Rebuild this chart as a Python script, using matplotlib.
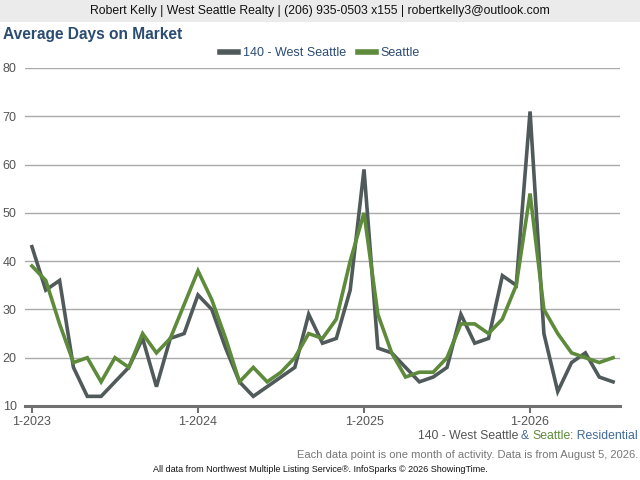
import matplotlib
matplotlib.use("Agg")
from matplotlib import pyplot as plt
from matplotlib.patches import Rectangle

plt.rcParams['font.family'] = ['Liberation Sans', 'DejaVu Sans']

# monthly values, Jan 2023 .. Jul 2026
west_seattle = [43, 34, 36, 18, 12, 12, 15, 18, 24, 14, 24, 25,
                33, 30, 22, 15, 12, 14, 16, 18, 29, 23, 24, 34,
                59, 22, 21, 18, 15, 16, 18, 29, 23, 24, 37, 35,
                71, 25, 13, 19, 21, 16, 15]
seattle = [39, 36, 27, 19, 20, 15, 20, 18, 25, 21, 24, 31,
           38, 32, 24, 15, 18, 15, 17, 20, 25, 24, 28, 40,
           50, 29, 21, 16, 17, 17, 20, 27, 27, 25, 28, 35,
           54, 30, 25, 21, 20, 19, 20]
tick_pos = [0, 12, 24, 36]
tick_labels = ["1-2023", "1-2024", "1-2025", "1-2026"]
y_ticks = [10, 20, 30, 40, 50, 60, 70, 80]

GRAY = "#505a5a"
GREEN = "#5e8b3b"
BLUE = "#2b4c73"

fig = plt.figure(figsize=(6.4, 4.8), dpi=100)

# header band
fig.patches.append(Rectangle((0, 1 - 22 / 480), 1, 22 / 480, transform=fig.transFigure,
                             facecolor="#ebebeb", edgecolor="none", zorder=0))
fig.text(0.5, 1 - 11 / 480, "Robert Kelly | West Seattle Realty | (206) 935-0503 x155 | robertkelly3@outlook.com",
         ha="center", va="center", fontsize=8.8, color="#111111")
fig.text(3 / 640, 1 - 35 / 480, "Average Days on Market", ha="left", va="center",
         fontsize=11.2, fontweight="bold", color=BLUE)

ax = fig.add_axes([25 / 640, 74 / 480, 595 / 640, 338 / 480])
x = list(range(len(west_seattle)))
ax.plot(x, west_seattle, color=GRAY, lw=2.6, label="140 - West Seattle", solid_joinstyle="miter")
ax.plot(x, seattle, color=GREEN, lw=2.6, label="Seattle", solid_joinstyle="miter")

ax.set_xlim(-0.5, 42.5)
ax.set_ylim(10, 80)
ax.set_yticks(y_ticks)
ax.set_xticks(tick_pos)
ax.set_xticklabels(tick_labels)
ax.grid(axis="y", color="#aaaaaa", lw=1)
ax.set_axisbelow(True)
for s in ["top", "right", "left"]:
    ax.spines[s].set_visible(False)
ax.spines["bottom"].set_color("#707070")
ax.spines["bottom"].set_linewidth(2.2)
ax.tick_params(axis="y", length=0, labelsize=9, colors="#555555", pad=6)
ax.tick_params(axis="x", length=5, width=1.5, color="#707070", labelsize=9, labelcolor="#555555", pad=2)

leg = fig.legend(loc="center", bbox_to_anchor=(0.5, 1 - 53 / 480), ncol=2, frameon=False,
                 fontsize=9, handlelength=1.4, handletextpad=0.4, columnspacing=1.0)
for t in leg.get_texts():
    t.set_color(BLUE)
for h in leg.get_lines():
    h.set_linewidth(4)

# colored footnote, chained right to left
t1 = fig.text(638 / 640, 1 - 436 / 480, ": Residential", ha="right", va="center", fontsize=8.8, color="#3f6a9a")
t2 = fig.text(0, 0, "Seattle", fontsize=8.8, color=GREEN, ha="right", va="bottom")
t3 = fig.text(0, 0, "&", fontsize=8.8, color="#3f6a9a", ha="right", va="bottom")
t4 = fig.text(0, 0, "140 - West Seattle", fontsize=8.8, color="#555555", ha="right", va="bottom")
fig.canvas.draw()
r = fig.canvas.get_renderer()
prev = t1
for t, gap in [(t2, 0), (t3, 3), (t4, 3)]:
    bb = prev.get_window_extent(r)
    t.set_position(((bb.x0 - gap) / fig.bbox.width, bb.y0 / fig.bbox.height))
    fig.canvas.draw()
    prev = t

fig.text(638 / 640, 1 - 455 / 480, "Each data point is one month of activity. Data is from August 5, 2026.",
         ha="right", va="center", fontsize=8, color="#777777")
fig.text(0.5, 1 - 470 / 480, "All data from Northwest Multiple Listing Service\u00ae. InfoSparks \u00a9 2026 ShowingTime.",
         ha="center", va="center", fontsize=6.5, color="#111111")

fig.savefig("out.png", dpi=100)
